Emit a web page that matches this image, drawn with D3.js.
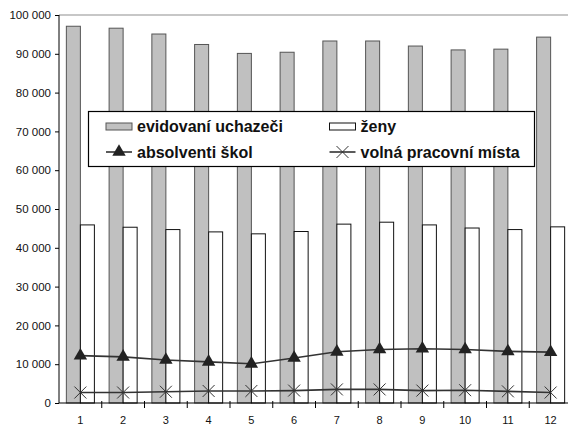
<!DOCTYPE html>
<html>
<head>
<meta charset="utf-8">
<script src="https://cdn.jsdelivr.net/npm/d3@7"></script>
<style>
  body { margin: 0; background: #fff; }
  svg { display: block; font-family: "Liberation Sans", Arial, sans-serif; }
</style>
</head>
<body>
<div id="chart"></div>
<script>
// months and series
var months = [1, 2, 3, 4, 5, 6, 7, 8, 9, 10, 11, 12]
var uchazeci = [97100, 96600, 95100, 92400, 90100, 90400, 93300, 93300, 92000, 91000, 91200, 94300]
var zeny = [45900, 45300, 44700, 44100, 43600, 44200, 46100, 46600, 45900, 45100, 44700, 45400]
var absolventi = [12200, 11900, 11100, 10600, 10100, 11600, 13200, 13800, 14000, 13800, 13300, 13100]
var volnaMista = [2700, 2700, 2900, 3100, 3100, 3200, 3500, 3500, 3200, 3300, 3000, 2700]
var yTicks = [0, 10000, 20000, 30000, 40000, 50000, 60000, 70000, 80000, 90000, 100000]
var legendLabels = ["evidovaní uchazeči", "ženy", "absolventi škol", "volná pracovní místa"]

const W = 568, H = 425
const mLeft = 59, mTop = 15, mBottom = 403, mRight = 572

const svg = d3.select("#chart").append("svg")
    .attr("width", W)
    .attr("height", H)

const x = d3.scaleBand()
    .domain(months)
    .range([mLeft, mRight])
const y = d3.scaleLinear()
    .domain([0, 100000])
    .range([mBottom, mTop])

const bw = x.bandwidth() / 3.05
const cx = m => x(m) + x.bandwidth() / 2

// top border of the plot area
svg.append("line")
    .attr("x1", mLeft).attr("x2", W)
    .attr("y1", y(100000)).attr("y2", y(100000))
    .attr("stroke", "#b4b4b4")
    .attr("stroke-width", 1.5)

// bars
svg.append("g")
    .selectAll("rect")
    .data(months)
    .enter().append("rect")
    .attr("x", (m) => cx(m) - bw)
    .attr("y", (m, i) => y(uchazeci[i]))
    .attr("width", bw)
    .attr("height", (m, i) => mBottom - y(uchazeci[i]))
    .attr("fill", "#c0c0c0")
    .attr("stroke", "#555")
    .attr("stroke-width", 1)

svg.append("g")
    .selectAll("rect")
    .data(months)
    .enter().append("rect")
    .attr("x", (m) => cx(m))
    .attr("y", (m, i) => y(zeny[i]))
    .attr("width", bw)
    .attr("height", (m, i) => mBottom - y(zeny[i]))
    .attr("fill", "#fff")
    .attr("stroke", "#111")
    .attr("stroke-width", 1)

// axes
const fmt = d3.formatLocale({ decimal: ",", thousands: " ", grouping: [3], currency: ["", ""] }).format(",")

const yAxis = svg.append("g")
    .attr("transform", `translate(${mLeft},0)`)
    .call(d3.axisLeft(y).tickValues(yTicks).tickSize(4).tickPadding(4).tickFormat(fmt))
yAxis.select(".domain").attr("d", `M0,${mTop}V${mBottom}`).attr("stroke", "#000")
yAxis.selectAll("text").attr("font-size", 11.5).attr("fill", "#111").attr("font-family", "Liberation Sans, Arial, sans-serif")

const xAxis = svg.append("g")
    .attr("transform", `translate(0,${mBottom})`)
    .call(d3.axisBottom(x).tickSize(0).tickPadding(13))
xAxis.select(".domain").attr("d", `M${mLeft},0H${mRight}`).attr("stroke", "#000")
xAxis.selectAll("text").attr("font-size", 11).attr("fill", "#111").attr("font-family", "Liberation Sans, Arial, sans-serif")

// category boundary ticks
svg.append("g")
    .selectAll("line")
    .data(months.slice(1))
    .enter().append("line")
    .attr("x1", m => x(m)).attr("x2", m => x(m))
    .attr("y1", mBottom - 2).attr("y2", mBottom + 5)
    .attr("stroke", "#000")

// lines
const line = d3.line()
    .x((d, i) => cx(months[i]))
    .y(d => y(d))

svg.append("path")
    .datum(absolventi)
    .attr("fill", "none")
    .attr("stroke", "#333")
    .attr("stroke-width", 1.6)
    .attr("d", line)

svg.append("path")
    .datum(volnaMista)
    .attr("fill", "none")
    .attr("stroke", "#333")
    .attr("stroke-width", 1.6)
    .attr("d", line)

const tri = d3.symbol(d3.symbolTriangle, 78)
const times = d3.symbol(d3.symbolTimes || d3.symbolCross, 95)

svg.append("g")
    .selectAll("path")
    .data(absolventi)
    .enter().append("path")
    .attr("transform", (d, i) => `translate(${cx(months[i])},${y(d)})`)
    .attr("d", tri)
    .attr("fill", "#222")

svg.append("g")
    .selectAll("path")
    .data(volnaMista)
    .enter().append("path")
    .attr("transform", (d, i) => `translate(${cx(months[i])},${y(d)})`)
    .attr("d", times)
    .attr("fill", "none")
    .attr("stroke", "#333")
    .attr("stroke-width", 1)

// legend
const lg = svg.append("g").attr("transform", "translate(88.5,111.5)")
lg.append("rect")
    .attr("width", 446)
    .attr("height", 55)
    .attr("fill", "#fff")
    .attr("stroke", "#000")
    .attr("stroke-width", 1.2)

const cols = [17.5, 241]
const rows = [15, 40.5]

lg.append("rect").attr("x", cols[0]).attr("y", rows[0] - 3.5).attr("width", 26).attr("height", 7)
    .attr("fill", "#c0c0c0").attr("stroke", "#555")
lg.append("rect").attr("x", cols[1]).attr("y", rows[0] - 3.5).attr("width", 26).attr("height", 7)
    .attr("fill", "#fff").attr("stroke", "#111")

lg.append("line").attr("x1", cols[0]).attr("x2", cols[0] + 26).attr("y1", rows[1]).attr("y2", rows[1])
    .attr("stroke", "#333").attr("stroke-width", 1.6)
lg.append("path").attr("transform", `translate(${cols[0] + 13},${rows[1]})`).attr("d", tri).attr("fill", "#222")
lg.append("line").attr("x1", cols[1]).attr("x2", cols[1] + 26).attr("y1", rows[1]).attr("y2", rows[1])
    .attr("stroke", "#333").attr("stroke-width", 1.6)
lg.append("path").attr("transform", `translate(${cols[1] + 13},${rows[1]})`).attr("d", times)
    .attr("fill", "none").attr("stroke", "#333")

lg.selectAll("text.lab")
    .data(legendLabels)
    .enter().append("text")
    .attr("class", "lab")
    .attr("x", (d, i) => cols[i % 2] + 31)
    .attr("y", (d, i) => rows[Math.floor(i / 2)])
    .attr("dy", "0.36em")
    .attr("font-size", 16)
    .attr("font-weight", "bold")
    .attr("fill", "#111")
    .text(d => d)
</script>
</body>
</html>
